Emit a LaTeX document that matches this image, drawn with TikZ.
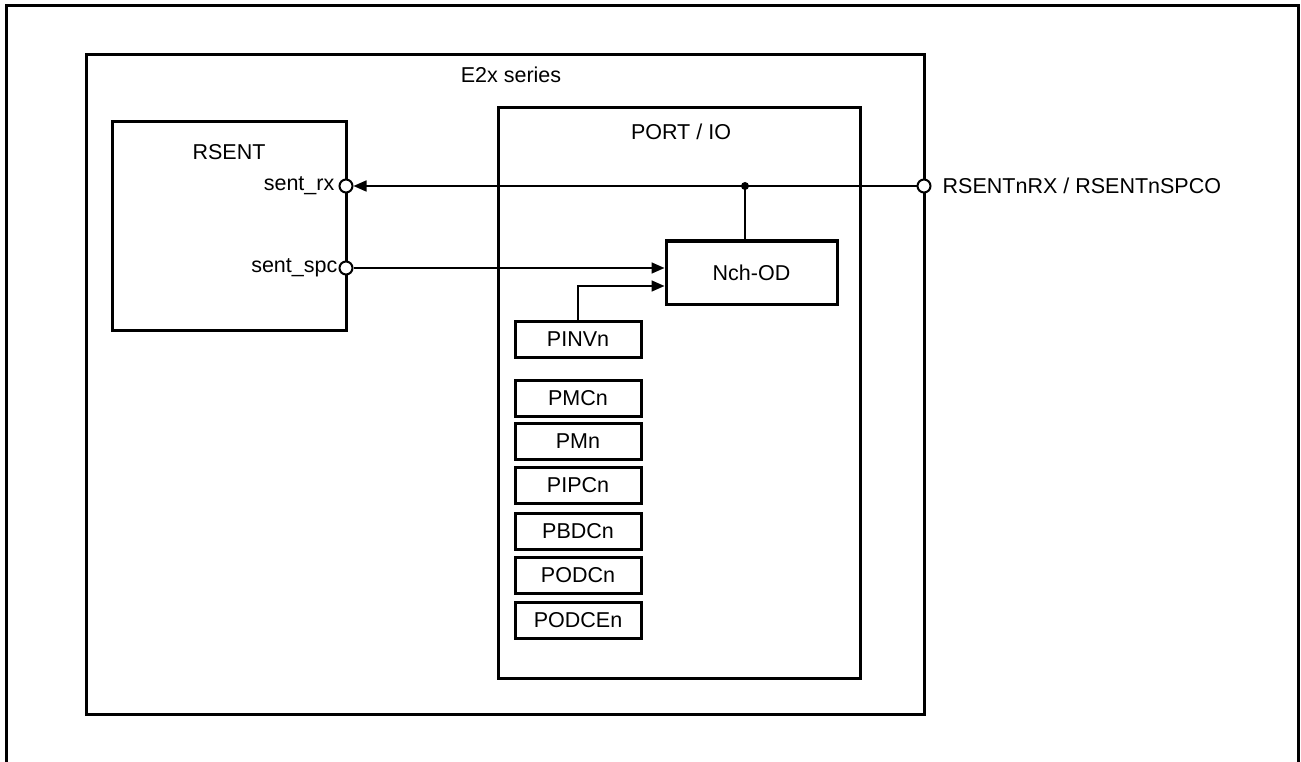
\documentclass[tikz,border=0pt]{standalone}
\usepackage{fontspec}
\setmainfont{Liberation Sans}
\usetikzlibrary{arrows.meta,calc}
\begin{document}
\begin{tikzpicture}[x=1pt,y=-1pt,
  font=\fontsize{21.5}{25}\selectfont,
  frame/.style={draw,line width=3pt},
  blk/.style={draw,line width=3pt,minimum width=#1,inner sep=0pt},
  reg/.style={draw,line width=3pt,minimum width=126pt,minimum height=36pt,inner sep=0pt},
  pin/.style={circle,draw,fill=white,line width=2pt,minimum size=13pt,inner sep=0pt},
  wire/.style={line width=1.6pt},
  arr/.style={wire,-{Triangle[length=13pt,width=11pt]}},
  dotnode/.style={circle,fill=black,minimum size=8pt,inner sep=0pt}]
\useasboundingbox (0,0) rectangle (1301,762);
% outer frame
\draw[frame] (6,800) -- (6,6) -- (1298,6) -- (1298,800);
% E2x series box
\node[blk=838pt,minimum height=659pt] (e2x) at (505,384.5) {};
\node (e2xl) at (511,75) {E2x series};
% RSENT box
\node[blk=234pt,minimum height=208pt] (rsent) at (229,226) {};
\node (rsentl) at (229,152) {RSENT};
% PORT / IO box
\node[blk=362pt,minimum height=570pt] (port) at (679,393) {};
\node (portl) at (681,132) {PORT / IO};
% Nch-OD
\node[blk=171pt,minimum height=63pt] (nch) at (751.5,272.5) {Nch-OD};
% registers
\node[reg] (pinv) at (578,339) {PINVn};
\node[reg] (pmc) at (578,398) {PMCn};
\node[reg] (pm) at (578,441.5) {PMn};
\node[reg] (pipc) at (578,485.5) {PIPCn};
\node[reg] (pbdc) at (578,531) {PBDCn};
\node[reg] (podc) at (578,575) {PODCn};
\node[reg] (podce) at (578,620.5) {PODCEn};
% pins
\node[pin] (srx) at (346,186) {};
\node[pin] (sspc) at (346,268) {};
\node[pin] (rxpin) at (924,186) {};
\node[anchor=east,inner sep=0pt,xshift=-4pt] (srxl) at (srx.west) {sent\_rx};
\node[anchor=east,inner sep=0pt,xshift=-1pt] (sspcl) at (sspc.west) {sent\_spc};
\node[anchor=west,inner sep=0pt,xshift=11pt] (rxpinl) at (rxpin.east) {RSENTnRX / RSENTnSPCO};
% junction
\node[dotnode] (jn) at (745,186) {};
% connectors
\draw[arr] (rxpin) -- (srx);
\draw[wire] (jn.center) -- (jn.center |- nch.north);
\draw[arr] (sspc) -- (sspc -| nch.west);
\draw[arr] (pinv.north) |- ([yshift=-13.5pt]nch.west);
\end{tikzpicture}
\end{document}
